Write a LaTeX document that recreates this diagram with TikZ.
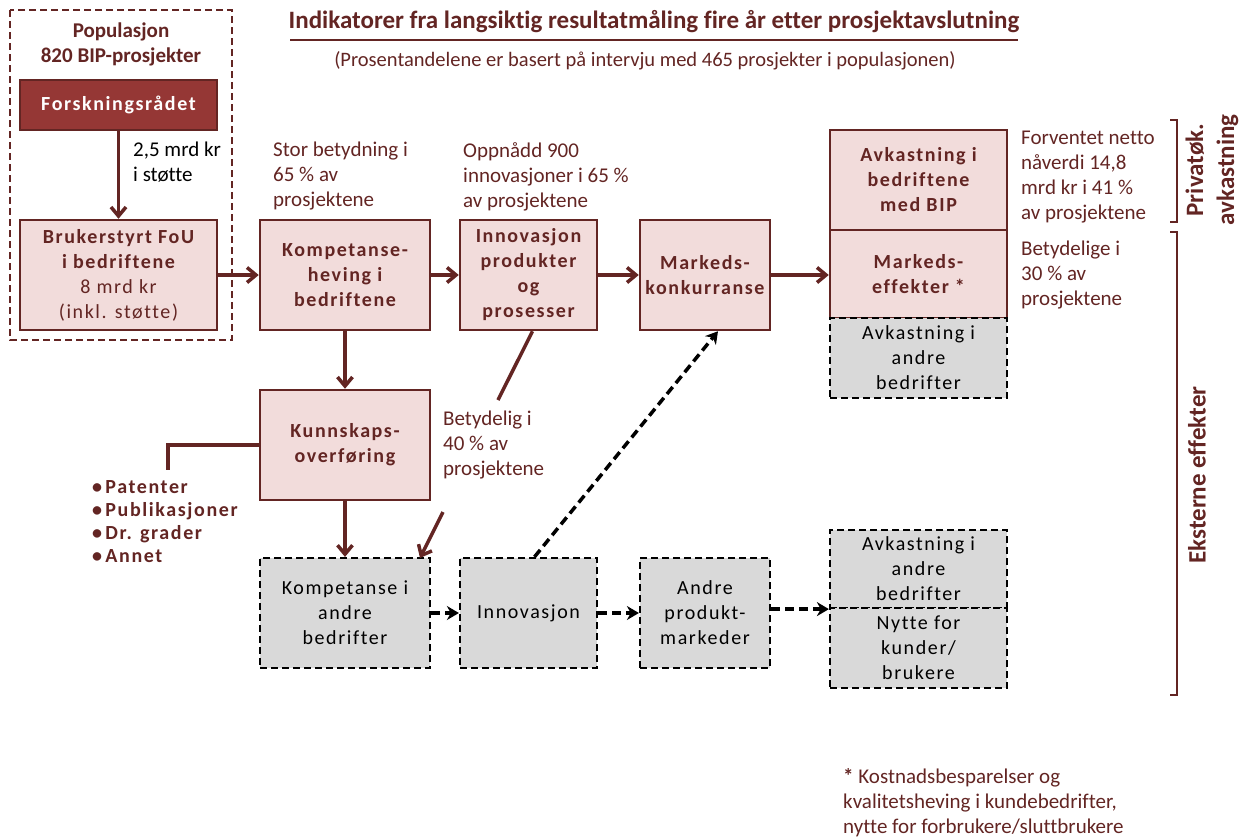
\documentclass[tikz,border=0pt]{standalone}
\usepackage{fontspec}
\setmainfont{Carlito}[Ligatures=NoCommon]
\newfontfamily\spaced[LetterSpace=8,Ligatures=NoCommon]{Carlito}
\usetikzlibrary{arrows.meta}

\definecolor{maroon}{RGB}{99,37,35}
\definecolor{forsred}{RGB}{149,55,53}
\definecolor{pinkfill}{RGB}{242,220,219}
\definecolor{greyfill}{RGB}{217,217,217}

\begin{document}
\begin{tikzpicture}[x=1pt,y=-1pt,
pinkbox/.style={draw=maroon, line width=2.5pt, fill=pinkfill, text=maroon, align=center,
  inner sep=0pt, font=\spaced\fontsize{20}{25}\selectfont\bfseries},
greybox/.style={draw=black, line width=2.2pt, dash pattern=on 7pt off 4pt, fill=greyfill, align=center,
  inner sep=0pt, font=\spaced\fontsize{20}{25}\selectfont},
note/.style={text=maroon, align=left, anchor=north west, inner sep=0pt,
  font=\fontsize{21}{25}\selectfont},
flow/.style={draw=maroon, line width=3.5pt, -{Straight Barb[length=9pt,width=15pt]}},
spill/.style={draw=black, line width=3.5pt, dash pattern=on 9pt off 5pt, -{Stealth[length=12pt,width=14pt]}},
brace/.style={draw=maroon, line width=2.2pt}
]
\useasboundingbox (0,0) rectangle (1248,838);

% title
\node[text=maroon, font=\fontsize{25}{28}\selectfont\bfseries] (title) at (654,22)
  {Indikatorer fra langsiktig resultatmåling fire år etter prosjektavslutning};
\draw[maroon, line width=2.5pt] (290,40) -- (1018,40);
\node[text=maroon, font=\fontsize{20.5}{24}\selectfont] (sub) at (645,61)
  {(Prosentandelene er basert på intervju med 465 prosjekter i populasjonen)};

% population
\draw[maroon, line width=2.2pt, dash pattern=on 7pt off 4pt] (10,10) rectangle (232,340);
\node[text=maroon, align=center, font=\fontsize{21}{25}\selectfont\bfseries] (pop) at (121,44)
  {Populasjon\\820 BIP-prosjekter};
\node[pinkbox, fill=forsred, text=white, minimum width=197pt, minimum height=50pt] (fors) at (118.5,105) {Forskningsrådet};
\node[pinkbox, minimum width=197pt, minimum height=110pt] (fou) at (118.5,275)
  {Brukerstyrt FoU\\i bedriftene\\\mdseries 8 mrd kr\\\mdseries (inkl. støtte)};

% main chain
\node[pinkbox, minimum width=170pt, minimum height=110pt] (komp) at (345,275) {Kompetanse-\\heving i\\bedriftene};
\node[pinkbox, minimum width=137pt, minimum height=110pt] (innov) at (528.5,275) {Innovasjon\\produkter\\og\\prosesser};
\node[pinkbox, minimum width=130pt, minimum height=110pt] (marked) at (705,275) {Markeds-\\konkurranse};
\node[pinkbox, minimum width=177pt, minimum height=100pt] (avkbip) at (918.5,180) {Avkastning i\\bedriftene\\med BIP};
\node[pinkbox, minimum width=177pt, minimum height=88pt] (markeff) at (918.5,274) {Markeds-\\effekter *};
\node[greybox, minimum width=177pt, minimum height=80pt] (avkandre) at (918.5,358) {Avkastning i\\andre\\bedrifter};
\node[pinkbox, minimum width=170pt, minimum height=110pt] (kunn) at (345,445) {Kunnskaps-\\overføring};

% spillover chain
\node[greybox, minimum width=170pt, minimum height=110pt] (kompandre) at (345,613) {Kompetanse i\\andre\\bedrifter};
\node[greybox, minimum width=137pt, minimum height=110pt] (innovandre) at (528.5,613) {Innovasjon};
\node[greybox, minimum width=130pt, minimum height=110pt] (produkt) at (705,613) {Andre\\produkt-\\markeder};
\node[greybox, minimum width=177pt, minimum height=78pt] (avkandre2) at (918.5,569) {Avkastning i\\andre\\bedrifter};
\node[greybox, minimum width=177pt, minimum height=80pt] (nytte) at (918.5,648) {Nytte for\\kunder/\\brukere};

% notes
\node[note, text=black] (stotte) at (133,142) {2,5 mrd kr\\i støtte};
\node[note] (n1) at (273,142) {Stor betydning i\\65 \% av\\prosjektene};
\node[note] (n2) at (463,142) {Oppnådd 900\\innovasjoner i 65 \%\\av prosjektene};
\node[note] (n3) at (1021,131) {Forventet netto\\nåverdi 14,8\\mrd kr i 41 \%\\av prosjektene};
\node[note] (n4) at (1021,241) {Betydelige i\\30 \% av\\prosjektene};
\node[note] (n5) at (443,411) {Betydelig i\\40 \% av\\prosjektene};
\node[note, font=\spaced\fontsize{20}{23}\selectfont\bfseries] (bullets) at (92,480)
  {\textbullet\,Patenter\\\textbullet\,Publikasjoner\\\textbullet\,Dr. grader\\\textbullet\,Annet};
\node[note] (foot) at (843,768) {\textbf{*} Kostnadsbesparelser og\\kvalitetsheving i kundebedrifter,\\nytte for forbrukere/sluttbrukere};

% side labels
\node[rotate=90, text=maroon, align=center, font=\fontsize{25}{31}\selectfont\bfseries] (priv) at (1212,170) {Privatøk.\\avkastning};
\node[rotate=90, text=maroon, font=\fontsize{25}{28}\selectfont\bfseries] (ekst) at (1197,475) {Eksterne effekter};
\draw[brace] (1170,120) -- (1177,120) -- (1177,222) -- (1170,222);
\draw[brace] (1170,232) -- (1177,232) -- (1177,695) -- (1170,695);

% connectors
\draw[flow] (fors) -- (fou);
\draw[flow] (fou) -- (komp);
\draw[flow] (komp) -- (innov);
\draw[flow] (innov) -- (marked);
\draw[flow] (marked.east) -- (marked.east -| markeff.west);
\draw[flow] (komp) -- (kunn);
\draw[flow] (kunn) -- (kompandre);
\coordinate (cut1) at (498,400);
\coordinate (cut2) at (443,512);
\coordinate (hit) at (420,558);
\coordinate (listtop) at (168,470);
\draw[maroon, line width=3.5pt] ([xshift=4pt]innov.south) -- (cut1);
\draw[flow] (cut2) -- (hit);
\draw[maroon, line width=3.5pt] (kunn.west) -| (listtop);
\draw[spill] (kompandre) -- (innovandre);
\draw[spill] (innovandre) -- (produkt);
\draw[spill] (produkt.east |- avkandre2.south) -- (avkandre2.south west);
\draw[spill] ([xshift=6pt]innovandre.north) -- ([xshift=13pt]marked.south);
\end{tikzpicture}
\end{document}
